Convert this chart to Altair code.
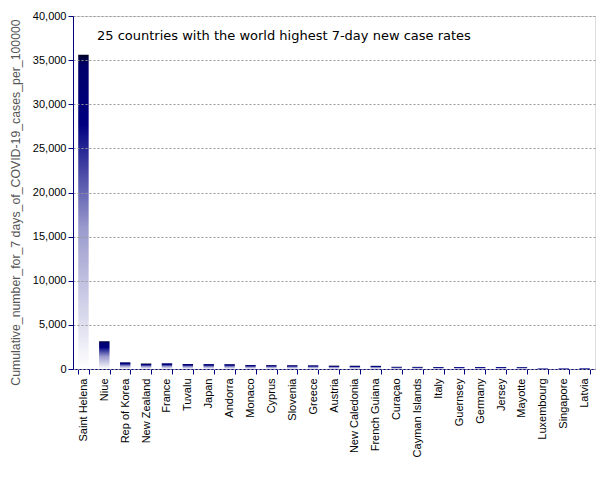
import altair as alt
import pandas as pd

countries = ["Saint Helena", "Niue", "Rep of Korea", "New Zealand", "France", "Tuvalu",
             "Japan", "Andorra", "Monaco", "Cyprus", "Slovenia", "Greece", "Austria",
             "New Caledonia", "French Guiana", "Curaçao", "Cayman Islands", "Italy",
             "Guernsey", "Germany", "Jersey", "Mayotte", "Luxembourg", "Singapore", "Latvia"]
values = [35600, 3150, 760, 620, 650, 570, 560, 550, 450, 440, 430, 420, 380,
          370, 360, 250, 240, 230, 230, 220, 220, 210, 100, 90, 80]

title_text = "25 countries with the world highest 7-day new case rates"
y_title = "Cumulative_number_for_7 days_of_COVID-19_cases_per_100000"

df = pd.DataFrame({"country": countries, "value": values})

navy = "#000080"
grad = alt.Gradient(
    gradient="linear",
    stops=[alt.GradientStop(color="#ffffff", offset=0),
           alt.GradientStop(color="#e4e4f2", offset=0.12),
           alt.GradientStop(color="#9a9acd", offset=0.45),
           alt.GradientStop(color="#30309a", offset=0.68),
           alt.GradientStop(color=navy, offset=0.78),
           alt.GradientStop(color="#000068", offset=0.97),
           alt.GradientStop(color="#000025", offset=1)],
    x1=0, x2=0, y1=1, y2=0,
)

bars = alt.Chart(df).mark_bar(color=grad).encode(
    x=alt.X("country:N", sort=None, title=None,
            scale=alt.Scale(paddingInner=0.5, paddingOuter=0.25),
            axis=alt.Axis(labelAngle=-90, labelFont="Liberation Sans", labelFontSize=11,
                          labelColor="#000000", domainColor=navy, tickColor=navy,
                          tickBand="extent", tickSize=5, labelPadding=4, grid=False)),
    y=alt.Y("value:Q", title=y_title,
            scale=alt.Scale(domain=[0, 40000], nice=False),
            axis=alt.Axis(values=list(range(0, 40001, 5000)), format=",d",
                          labelFont="Liberation Sans", labelFontSize=11, labelColor="#000000",
                          domainColor=navy, tickColor=navy, tickSize=5, zindex=1,
                          grid=True, gridColor="#999999", gridDash=[2, 2],
                          titleFont="Liberation Sans", titleFontSize=12.3, titleColor="#555555",
                          titleFontWeight="normal", titlePadding=10, titleY=186)),
)

title = alt.Chart(pd.DataFrame({"t": [title_text]})).mark_text(
    align="left", baseline="middle", font="DejaVu Sans", fontSize=13, color="#000000"
).encode(text="t:N", x=alt.value(24), y=alt.value(20))

chart = alt.layer(bars, title).properties(
    width=522, height=353,
    autosize=alt.AutoSizeParams(type="none"),
    padding={"left": 73, "top": 16, "right": 10, "bottom": 111},
).configure_view(stroke=None).configure(background="#ffffff")

chart.save("out.html", embed_options={"renderer": "svg", "actions": False})
